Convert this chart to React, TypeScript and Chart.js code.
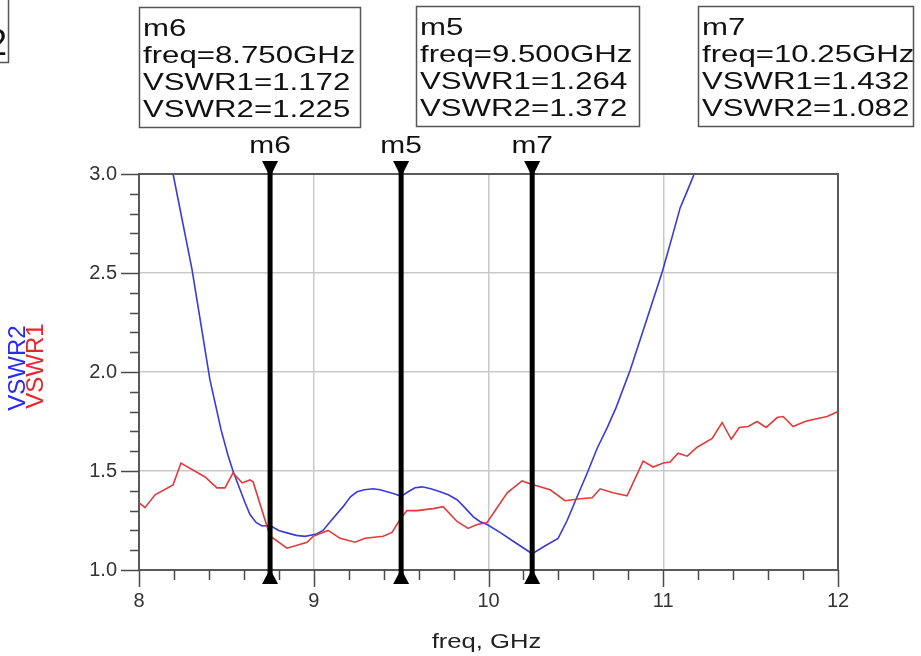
import React, { useEffect, useRef } from "react";
import { Chart, registerables } from "chart.js";

Chart.register(...registerables);

// ---- data ----
const freq1 = [8.0, 8.034, 8.092, 8.195, 8.24, 8.378, 8.446, 8.492, 8.538, 8.59, 8.635, 8.653, 8.75, 8.847, 8.962, 8.996, 9.082, 9.151, 9.236, 9.294, 9.397, 9.448, 9.5, 9.534, 9.591, 9.683, 9.74, 9.82, 9.883, 9.935, 9.992, 10.107, 10.192, 10.25, 10.353, 10.438, 10.524, 10.593, 10.639, 10.713, 10.793, 10.885, 10.942, 11.0, 11.039, 11.085, 11.137, 11.194, 11.28, 11.337, 11.389, 11.435, 11.486, 11.537, 11.589, 11.652, 11.686, 11.743, 11.812, 11.858, 11.938, 12.0];
const vswr1 = [1.34, 1.315, 1.38, 1.43, 1.54, 1.47, 1.415, 1.415, 1.49, 1.44, 1.455, 1.445, 1.172, 1.11, 1.14, 1.17, 1.2, 1.16, 1.14, 1.16, 1.17, 1.19, 1.264, 1.3, 1.3, 1.31, 1.32, 1.245, 1.21, 1.23, 1.24, 1.39, 1.45, 1.432, 1.405, 1.35, 1.36, 1.365, 1.41, 1.39, 1.375, 1.55, 1.52, 1.54, 1.545, 1.59, 1.575, 1.62, 1.665, 1.745, 1.66, 1.72, 1.725, 1.75, 1.72, 1.77, 1.775, 1.725, 1.75, 1.76, 1.775, 1.8];

const freq2 = [8.12, 8.195, 8.303, 8.406, 8.444, 8.469, 8.509, 8.538, 8.572, 8.607, 8.635, 8.67, 8.704, 8.75, 8.8, 8.836, 8.9, 8.95, 9.01, 9.053, 9.1, 9.168, 9.21, 9.248, 9.29, 9.339, 9.38, 9.42, 9.46, 9.5, 9.54, 9.58, 9.62, 9.67, 9.723, 9.77, 9.82, 9.87, 9.912, 9.95, 9.992, 10.066, 10.15, 10.25, 10.32, 10.398, 10.45, 10.507, 10.565, 10.622, 10.68, 10.73, 10.811, 10.9, 10.994, 11.05, 11.097, 11.14, 11.177, 11.27];
const vswr2 = [3.33, 3.0, 2.52, 1.96, 1.81, 1.71, 1.58, 1.5, 1.42, 1.34, 1.28, 1.24, 1.222, 1.225, 1.2, 1.19, 1.175, 1.17, 1.18, 1.2, 1.25, 1.32, 1.37, 1.395, 1.405, 1.41, 1.405, 1.395, 1.385, 1.372, 1.395, 1.415, 1.42, 1.41, 1.395, 1.38, 1.355, 1.31, 1.27, 1.245, 1.23, 1.19, 1.14, 1.082, 1.12, 1.16, 1.25, 1.37, 1.49, 1.615, 1.72, 1.82, 2.01, 2.25, 2.505, 2.68, 2.83, 2.92, 3.0, 3.3];

const xMin = 8;
const xMax = 12;
const yMin = 1.0;
const yMax = 3.0;

const markerNames = ["m6", "m5", "m7"];
const markerFreqs = [8.75, 9.5, 10.25];
const markerFreqText = ["8.750GHz", "9.500GHz", "10.25GHz"];
const markerVswr1 = [1.172, 1.264, 1.432];
const markerVswr2 = [1.225, 1.372, 1.082];

const xTitle = "freq, GHz";
const series1Name = "VSWR1";
const series2Name = "VSWR2";

const FONT = '"Liberation Sans", Arial, sans-serif';
const BLUE = "#3a3ad6";
const RED = "#e03a3a";

function isMultiple(v: number, step: number) {
  const r = v / step;
  return Math.abs(r - Math.round(r)) < 1e-6;
}

function stretchedText(
  ctx: CanvasRenderingContext2D,
  text: string,
  x: number,
  y: number,
  size: number,
  sx: number,
  align: "left" | "center" | "right",
  color: string
) {
  ctx.save();
  ctx.font = `${size}px ${FONT}`;
  ctx.fillStyle = color;
  ctx.textAlign = "left";
  ctx.textBaseline = "alphabetic";
  const w = ctx.measureText(text).width * sx;
  let left = x;
  if (align === "center") left = x - w / 2;
  else if (align === "right") left = x - w;
  ctx.translate(left, y);
  ctx.scale(sx, 1);
  ctx.fillText(text, 0, 0);
  ctx.restore();
}

const overlayPlugin = {
  id: "overlay",
  beforeDraw(chart: any) {
    const ctx = chart.ctx as CanvasRenderingContext2D;
    ctx.save();
    ctx.fillStyle = "#ffffff";
    ctx.fillRect(0, 0, chart.width, chart.height);
    ctx.restore();
  },
  afterDatasetsDraw(chart: any) {
    const ctx = chart.ctx as CanvasRenderingContext2D;
    const xs = chart.scales.x;
    const ys = chart.scales.y;
    const { left, right, top, bottom } = chart.chartArea;

    ctx.save();
    // plot frame: top and right
    ctx.strokeStyle = "#5a5a5a";
    ctx.lineWidth = 2;
    ctx.beginPath();
    ctx.moveTo(left, top);
    ctx.lineTo(right, top);
    ctx.lineTo(right, bottom);
    ctx.stroke();

    // tick marks
    ctx.strokeStyle = "#4a4a4a";
    ctx.lineWidth = 1.5;
    ys.ticks.forEach((t: any) => {
      const py = Math.round(ys.getPixelForValue(t.value)) + 0.5;
      const major = isMultiple(t.value, 0.5);
      ctx.beginPath();
      ctx.moveTo(left - (major ? 18 : 9), py);
      ctx.lineTo(left, py);
      ctx.stroke();
    });
    xs.ticks.forEach((t: any) => {
      const px = Math.round(xs.getPixelForValue(t.value)) + 0.5;
      const major = isMultiple(t.value, 1);
      ctx.beginPath();
      ctx.moveTo(px, bottom);
      ctx.lineTo(px, bottom + (major ? 17 : 10));
      ctx.stroke();
    });

    // marker lines
    markerFreqs.forEach((f, i) => {
      const px = xs.getPixelForValue(f);
      ctx.fillStyle = "#000";
      ctx.fillRect(px - 2.5, top - 4, 5, bottom - top + 12);
      // top triangle (pointing down)
      ctx.beginPath();
      ctx.moveTo(px - 8, top - 13);
      ctx.lineTo(px + 8, top - 13);
      ctx.lineTo(px, top + 3);
      ctx.closePath();
      ctx.fill();
      // bottom triangle (pointing up)
      ctx.beginPath();
      ctx.moveTo(px - 8, bottom + 14);
      ctx.lineTo(px + 8, bottom + 14);
      ctx.lineTo(px, bottom - 1);
      ctx.closePath();
      ctx.fill();
      stretchedText(ctx, markerNames[i], px, top - 21, 23, 1.3, "center", "#111");
    });

    // marker readout boxes
    const boxes = [
      { x: 139, y: 7, w: 221, h: 120 },
      { x: 416, y: 6, w: 223, h: 120 },
      { x: 698, y: 6, w: 215, h: 120 },
    ];
    boxes.forEach((b, i) => {
      ctx.strokeStyle = "#555";
      ctx.lineWidth = 1.5;
      ctx.strokeRect(b.x + 0.5, b.y + 0.5, b.w, b.h);
      const lines = [
        markerNames[i],
        `freq=${markerFreqText[i]}`,
        `VSWR1=${markerVswr1[i].toFixed(3)}`,
        `VSWR2=${markerVswr2[i].toFixed(3)}`,
      ];
      lines.forEach((s, k) => {
        stretchedText(ctx, s, b.x + 4, b.y + 29 + k * 27, 24, 1.3, "left", "#111");
      });
    });

    // partial box at the top-left corner
    ctx.strokeStyle = "#555";
    ctx.lineWidth = 1.5;
    ctx.strokeRect(-60, -10, 68.5, 72.5);
    stretchedText(ctx, series2Name, 7, 55, 36, 1.0, "right", "#111");

    // x-axis title
    stretchedText(ctx, xTitle, (left + right) / 2 - 2, 648, 21, 1.22, "center", "#222");

    // y-axis titles (rotated)
    const cy = (top + bottom) / 2 - 4;
    ctx.font = `24px ${FONT}`;
    ctx.textAlign = "center";
    ctx.textBaseline = "middle";
    ctx.save();
    ctx.translate(18, cy);
    ctx.rotate(-Math.PI / 2);
    ctx.fillStyle = "#2a2af0";
    ctx.fillText(series2Name, 0, 0);
    ctx.restore();
    ctx.save();
    ctx.translate(36, cy - 2);
    ctx.rotate(-Math.PI / 2);
    ctx.fillStyle = "#e8262c";
    ctx.fillText(series1Name, 0, 0);
    ctx.restore();

    ctx.restore();
  },
};

export default function App() {
  const canvasRef = useRef<HTMLCanvasElement | null>(null);

  useEffect(() => {
    document.body.style.margin = "0";
    const canvas = canvasRef.current;
    if (!canvas) return;

    const data1 = freq1.map((f, i) => ({ x: f, y: vswr1[i] }));
    const data2 = freq2.map((f, i) => ({ x: f, y: vswr2[i] }));

    const chart = new Chart(canvas, {
      type: "line",
      data: {
        datasets: [
          {
            label: series1Name,
            data: data1,
            borderColor: RED,
            borderWidth: 1.6,
            pointRadius: 0,
            tension: 0,
            fill: false,
          },
          {
            label: series2Name,
            data: data2,
            borderColor: BLUE,
            borderWidth: 1.6,
            pointRadius: 0,
            tension: 0,
            fill: false,
          },
        ],
      },
      options: {
        responsive: false,
        animation: false,
        devicePixelRatio: 1,
        layout: { padding: { left: 0, top: 174, right: 83, bottom: 0 } },
        plugins: {
          legend: { display: false },
          tooltip: { enabled: false },
          title: { display: false },
        },
        scales: {
          x: {
            type: "linear",
            min: xMin,
            max: xMax,
            afterFit: (s: any) => {
              s.height = 86;
              s.paddingLeft = 0;
              s.paddingRight = 0;
            },
            ticks: {
              stepSize: 0.2,
              maxTicksLimit: 100,
              autoSkip: false,
              maxRotation: 0,
              minRotation: 0,
              padding: 19,
              color: "#333",
              font: { family: FONT, size: 20 },
              callback: (v: any) => (isMultiple(Number(v), 1) ? String(Math.round(Number(v))) : ""),
            },
            grid: {
              drawTicks: false,
              lineWidth: 1.5,
              color: (c: any) =>
                c.tick && isMultiple(c.tick.value, 1) ? "#c9c9c9" : "rgba(0,0,0,0)",
            },
            border: { display: true, color: "#5a5a5a", width: 2 },
          },
          y: {
            type: "linear",
            min: yMin,
            max: yMax,
            afterFit: (s: any) => {
              s.width = 139;
              s.paddingTop = 0;
              s.paddingBottom = 0;
            },
            ticks: {
              stepSize: 0.1,
              maxTicksLimit: 100,
              autoSkip: false,
              padding: 22,
              color: "#333",
              font: { family: FONT, size: 20 },
              callback: (v: any) => (isMultiple(Number(v), 0.5) ? Number(v).toFixed(1) : ""),
            },
            grid: {
              drawTicks: false,
              lineWidth: 1.5,
              color: (c: any) =>
                c.tick && isMultiple(c.tick.value, 0.5) ? "#c9c9c9" : "rgba(0,0,0,0)",
            },
            border: { display: true, color: "#5a5a5a", width: 2 },
          },
        },
      },
      plugins: [overlayPlugin],
    });

    return () => {
      chart.destroy();
    };
  }, []);

  return (
    <div style={{ width: 921, height: 656, position: "relative" }}>
      <canvas ref={canvasRef} width={921} height={656} style={{ display: "block", width: 921, height: 656 }} />
    </div>
  );
}
